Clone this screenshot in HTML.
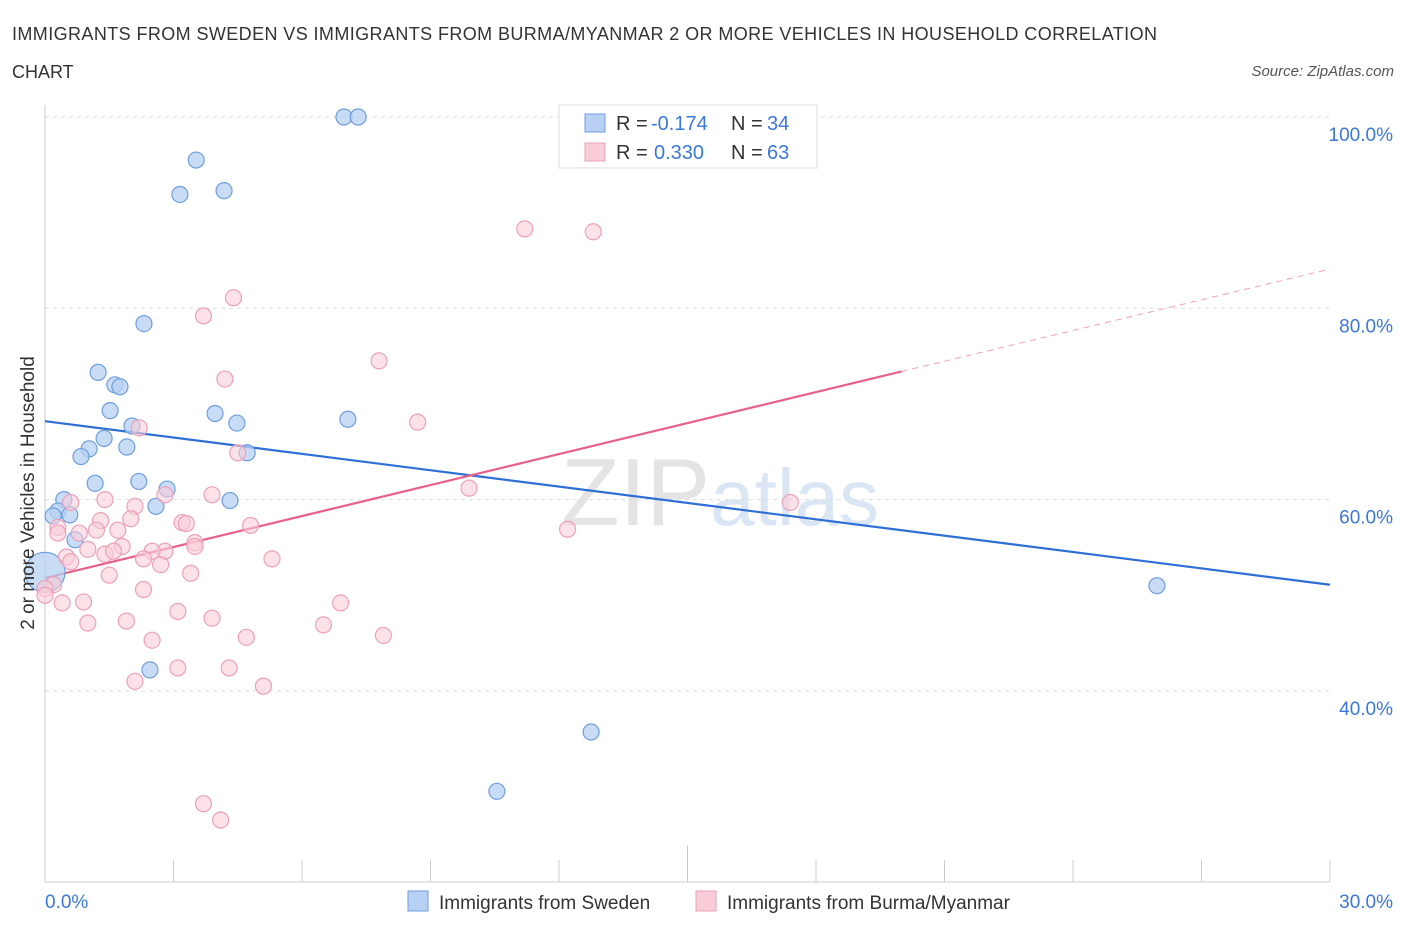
<!DOCTYPE html>
<html><head><meta charset="utf-8"><style>
body{margin:0;background:#fff;font-family:"Liberation Sans",sans-serif;}
svg text{font-family:"Liberation Sans",sans-serif;}
</style></head><body>
<svg id="chart" width="1406" height="930">
<text x="12" y="40" font-size="18" fill="#333" textLength="1145">IMMIGRANTS FROM SWEDEN VS IMMIGRANTS FROM BURMA/MYANMAR 2 OR MORE VEHICLES IN HOUSEHOLD CORRELATION</text>
<text x="12" y="78" font-size="18" fill="#333">CHART</text>
<text x="1394" y="76" font-size="15" fill="#555" font-style="italic" text-anchor="end">Source: ZipAtlas.com</text>
<text x="720" y="525" font-size="96" fill="#e4e4e4" text-anchor="middle" font-family="Liberation Serif">ZIP<tspan fill="#dbe6f4" font-family="Liberation Sans" font-size="80">atlas</tspan></text>
<g id="grid"></g><g id="axes"></g><g id="lines"></g><g id="pts"></g>
<text transform="translate(34,493) rotate(-90)" font-size="19" fill="#333" text-anchor="middle">2 or more Vehicles in Household</text>
<g>
<rect x="559" y="105" width="258" height="63" fill="#fff" stroke="#ddd"/>
<rect x="585" y="114" width="20" height="18" fill="#b7d0f3" stroke="#6f9ede"/>
<rect x="585" y="143" width="20" height="18" fill="#f8cdd9" stroke="#eda0b9"/>
<text x="616" y="130" font-size="20" fill="#333">R =</text>
<text x="651" y="130" font-size="20" fill="#3b78d8">-0.174</text>
<text x="731" y="130" font-size="20" fill="#333">N =</text>
<text x="767" y="130" font-size="20" fill="#3b78d8">34</text>
<text x="616" y="159" font-size="20" fill="#333">R =</text>
<text x="654" y="159" font-size="20" fill="#3b78d8">0.330</text>
<text x="731" y="159" font-size="20" fill="#333">N =</text>
<text x="767" y="159" font-size="20" fill="#3b78d8">63</text>
</g>
<g>
<rect x="408" y="891" width="20" height="20" fill="#b7d0f3" stroke="#6f9ede"/>
<text x="439" y="909" font-size="19" fill="#333">Immigrants from Sweden</text>
<rect x="696" y="891" width="20" height="20" fill="#f8cdd9" stroke="#eda0b9"/>
<text x="727" y="909" font-size="19" fill="#333">Immigrants from Burma/Myanmar</text>
</g>
</svg>
<script>
const yTicks=[40,60,80,100];
const xTickLabels=["0.0%","30.0%"];
const swedenX=[6.98,7.31,3.53,3.15,4.18,2.31,1.24,1.63,1.75,1.52,3.97,4.48,7.07,2.03,1.38,1.03,0.84,1.91,4.72,1.17,2.19,2.85,0.44,4.32,2.59,0.30,25.96,0.0,0.58,2.45,12.75,10.55,0.19,0.70];
const swedenY=[100,100,95.5,91.9,92.3,78.4,73.3,72.0,71.8,69.3,69.0,68.0,68.4,67.7,66.4,65.3,64.5,65.5,64.9,61.7,61.9,61.1,60.0,59.9,59.3,58.8,51.0,52.4,58.4,42.2,35.7,29.5,58.3,55.8];
const swedenR=[8,8,8,8,8,8,8,8,8,8,8,8,8,8,8,8,8,8,8,8,8,8,8,8,8,8,8,20,8,8,8,8,8,8];
const burmaX=[11.2,12.8,4.4,3.7,7.8,4.2,8.7,2.2,4.5,9.9,2.8,3.9,1.4,0.6,2.1,17.4,12.2,4.8,2.0,1.3,3.2,3.3,0.3,0.3,0.8,1.2,1.7,3.5,3.5,1.8,1.0,2.8,2.5,1.4,1.6,2.3,0.5,0.6,2.7,5.3,3.4,1.5,0.2,0.0,2.3,0.4,0.9,6.9,3.1,3.9,1.0,1.9,6.5,2.5,4.7,7.9,3.1,4.3,2.1,5.1,3.7,4.1,0.0];
const burmaY=[88.3,88.0,81.1,79.2,74.5,72.6,68.1,67.5,64.9,61.2,60.5,60.5,60.0,59.7,59.3,59.7,56.9,57.3,58.0,57.8,57.6,57.5,57.1,56.5,56.5,56.8,56.8,55.5,55.1,55.1,54.8,54.6,54.6,54.3,54.6,53.8,54.0,53.5,53.2,53.8,52.3,52.1,51.1,50.7,50.6,49.2,49.3,49.2,48.3,47.6,47.1,47.3,46.9,45.3,45.6,45.8,42.4,42.4,41.0,40.5,28.2,26.5,50.0];
const sweLine=[68.2,51.1];
const burLine=[51.8,73.4,84.1];
const X0=45,X1=1330,Y0=117,K=9.565;
const sx=v=>X0+(v/30)*(X1-X0);
const sy=v=>Y0+(100-v)*K;
const NS="http://www.w3.org/2000/svg";
function mk(t,p,par){const e=document.createElementNS(NS,t);for(const k in p)e.setAttribute(k,p[k]);document.getElementById(par).appendChild(e);return e;}
yTicks.forEach(v=>{
 const g=mk("line",{x1:45,x2:1330,y1:sy(v),y2:sy(v),stroke:"#ddd","stroke-dasharray":"4,4"},"grid");
 
 
 const t=mk("text",{x:1393,y:sy(v)+24,"font-size":19,fill:"#3b78d8","text-anchor":"end"},"grid");
 t.textContent=v.toFixed(1)+"%";
 
 
});
const ax=mk("line",{x1:45,x2:45,y1:105,y2:882,stroke:"#ccc"},"axes");


const bx=mk("line",{x1:45,x2:1330,y1:882,y2:882,stroke:"#ccc"},"axes");


for(let i=0;i<=10;i++){const v=i*3;
 const tk=mk("line",{x1:sx(v),x2:sx(v),y1:i==5?845:860,y2:882,stroke:"#ccc"},"axes");
 
 }
[[0,"start",45],[30,"end",1393]].forEach((d,i)=>{
 const t=mk("text",{x:d[2],y:908,"font-size":19,fill:"#3b78d8","text-anchor":d[1]},"axes");
 t.textContent=xTickLabels[i];
 
 });
for(let i=0;i<swedenX.length;i++){
 const c=mk("circle",{cx:sx(swedenX[i]),cy:sy(swedenY[i]),r:swedenR[i],fill:"#b7d0f3","fill-opacity":0.75,stroke:"#6f9ede","stroke-width":1.2},"pts");
 
 }
for(let i=0;i<burmaX.length;i++){
 const c=mk("circle",{cx:sx(burmaX[i]),cy:sy(burmaY[i]),r:8,fill:"#f8cdd9","fill-opacity":0.6,stroke:"#eda0b9","stroke-width":1.2},"pts");
 
 }
const l1=mk("line",{x1:sx(0),y1:sy(sweLine[0]),x2:sx(30),y2:sy(sweLine[1]),stroke:"#2e6fd6","stroke-width":2.2},"lines");


const l2=mk("line",{x1:sx(0),y1:sy(burLine[0]),x2:sx(20),y2:sy(burLine[1]),stroke:"#e8608a","stroke-width":2.2},"lines");


const l3=mk("line",{x1:sx(20),y1:sy(burLine[1]),x2:sx(30),y2:sy(burLine[2]),stroke:"#f0a0b8","stroke-width":1,"stroke-dasharray":"6,5"},"lines");


</script>
</body></html>
